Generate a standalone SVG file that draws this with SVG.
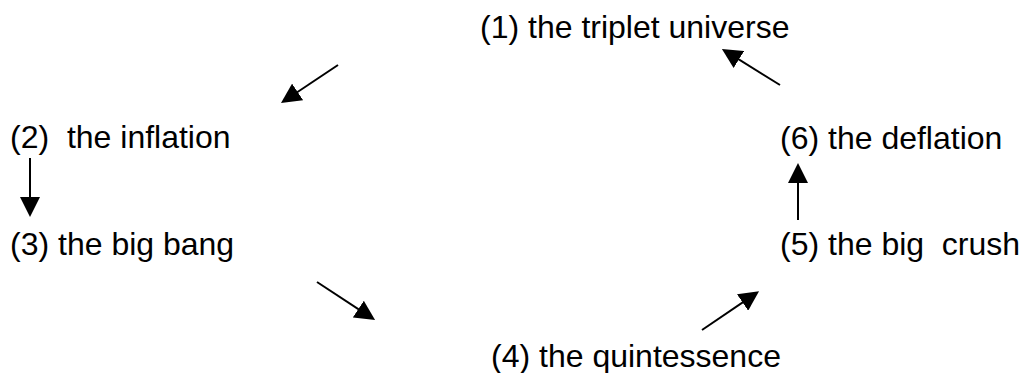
<svg xmlns="http://www.w3.org/2000/svg" width="1021" height="373" viewBox="0 0 1021 373">
<style>
text{font-family:"Liberation Sans",Arial,sans-serif;font-size:32px;fill:#000;white-space:pre}
.c line{stroke:#000;stroke-width:2;marker-end:url(#ah)}
</style>
<defs>
<marker id="ah" markerUnits="userSpaceOnUse" markerWidth="20" markerHeight="20" refX="10" refY="10" orient="auto" viewBox="0 0 20 20">
<path d="M0,0 L20,10 L0,20 z" fill="#000"/>
</marker>
</defs>
<rect width="1021" height="373" fill="#fff"/>
<g id="n1"><text x="480" y="38">(1) the triplet universe</text></g>
<g id="n2"><text x="10" y="148" xml:space="preserve">(2)  the inflation</text></g>
<g id="n3"><text x="10" y="255">(3) the big bang</text></g>
<g id="n4"><text x="491" y="367">(4) the quintessence</text></g>
<g id="n5"><text x="780" y="255" xml:space="preserve">(5) the big  crush</text></g>
<g id="n6"><text x="780" y="149">(6) the deflation</text></g>
<g id="connectors" class="c">
<line x1="338" y1="65" x2="289.3" y2="97.5"/>
<line x1="30" y1="158" x2="30" y2="207"/>
<line x1="317" y1="282" x2="366.7" y2="314.6"/>
<line x1="702" y1="330" x2="750.8" y2="296.8"/>
<line x1="798" y1="220" x2="798" y2="173"/>
<line x1="780" y1="85" x2="730.4" y2="54.2"/>
</g>
</svg>
